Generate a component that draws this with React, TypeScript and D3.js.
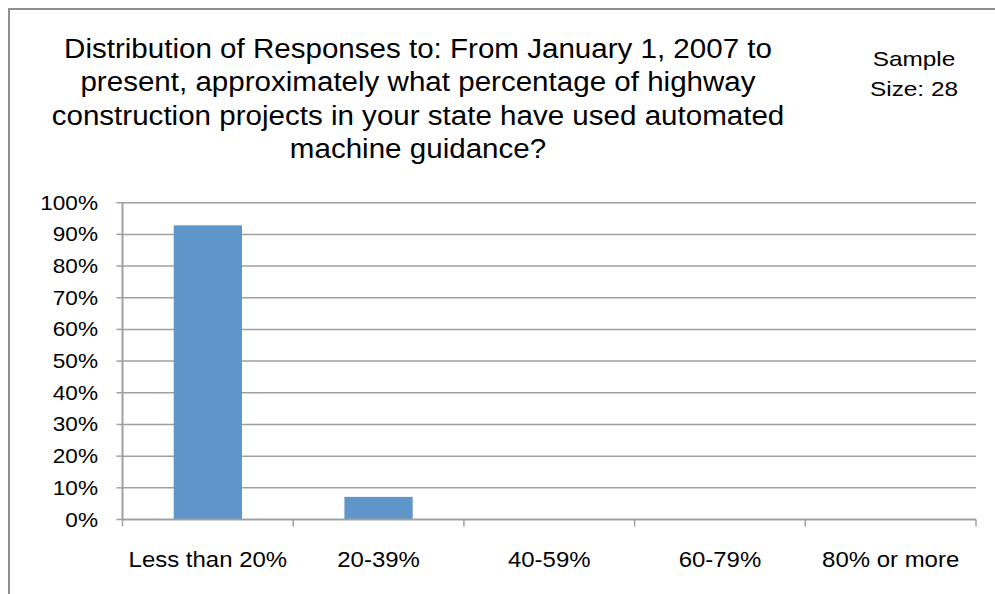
import React from "react";
import * as d3 from "d3";

const categories = ["Less than 20%", "20-39%", "40-59%", "60-79%", "80% or more"];
const values = [26 / 28, 2 / 28, 0, 0, 0];
const yTicks = [0, 0.1, 0.2, 0.3, 0.4, 0.5, 0.6, 0.7, 0.8, 0.9, 1.0];
const titleLines = [
  "Distribution of Responses to: From January 1, 2007 to",
  "present, approximately what percentage of highway",
  "construction projects in your state have used automated",
  "machine guidance?",
];
const sampleLines = ["Sample", "Size: 28"];

const W = 995;
const H = 594;
const left = 122.5;
const right = 976;
const top = 202.7;
const bottom = 519.5;
const font = "'Liberation Sans', Arial, sans-serif";
const gridColor = "#a0a0a0";

function T(props: { x: number; y: number; size: number; sx: number; anchor: string; children: React.ReactNode }) {
  return (
    <text
      transform={`translate(${props.x},${props.y}) scale(${props.sx},1)`}
      textAnchor={props.anchor}
      fontFamily={font}
      fontSize={props.size}
      fill="#000"
    >
      {props.children}
    </text>
  );
}

export default function App() {
  const x = d3.scaleBand<string>().domain(categories).range([left, right]).paddingInner(0).paddingOuter(0);
  const y = d3.scaleLinear().domain([0, 1]).range([bottom, top]);
  const bw = x.bandwidth() / 2.5;

  return (
    <svg
      width={W}
      height={H}
      style={{ position: "absolute", left: 0, top: 0, display: "block", background: "#fff" }}
    >
      <rect x={9} y={9} width={W + 20} height={H + 20} fill="#fff" stroke="#8e8e8e" strokeWidth={2} />
      {titleLines.map((t, i) => (
        <T key={i} x={418} y={57.5 + i * 33.6} size={27} sx={1.095} anchor="middle">
          {t}
        </T>
      ))}
      {sampleLines.map((t, i) => (
        <T key={i} x={914} y={65.5 + i * 30} size={21} sx={1.16} anchor="middle">
          {t}
        </T>
      ))}
      {yTicks.map((v, i) => (
        <g key={i}>
          {v > 0 && (
            <line x1={left} x2={right} y1={y(v)} y2={y(v)} stroke={gridColor} strokeWidth={1.5} />
          )}
          <line x1={left - 6} x2={left} y1={y(v)} y2={y(v)} stroke={gridColor} strokeWidth={1.5} />
          <T x={98} y={y(v) + 7} size={20} sx={1.13} anchor="end">
            {`${Math.round(v * 100)}%`}
          </T>
        </g>
      ))}
      {categories.map((c, i) => (
        <rect
          key={c}
          x={(x(c) as number) + (x.bandwidth() - bw) / 2}
          y={y(values[i])}
          width={bw}
          height={bottom - y(values[i])}
          fill="#5f96c9"
        />
      ))}
      <line x1={left} x2={left} y1={top} y2={bottom} stroke={gridColor} strokeWidth={2} />
      <line x1={left} x2={right} y1={bottom} y2={bottom} stroke={gridColor} strokeWidth={2} />
      {[...categories.map((c) => x(c) as number), right].map((px, i) => (
        <line key={i} x1={px} x2={px} y1={bottom} y2={bottom + 7} stroke={gridColor} strokeWidth={1.5} />
      ))}
      {categories.map((c) => (
        <T key={c} x={(x(c) as number) + x.bandwidth() / 2} y={567} size={22} sx={1.09} anchor="middle">
          {c}
        </T>
      ))}
    </svg>
  );
}
